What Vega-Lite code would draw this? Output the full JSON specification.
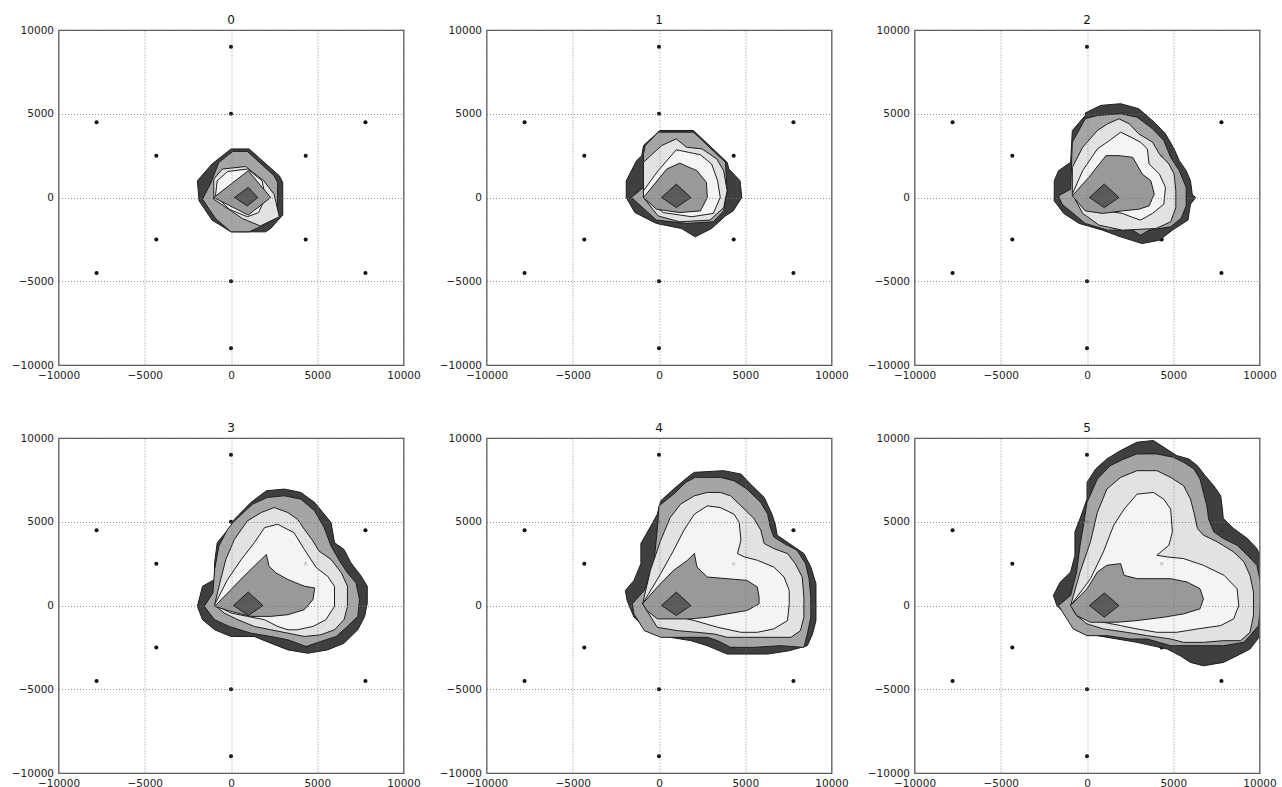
{
"$schema":"https://vega.github.io/schema/vega-lite/v6.json",
"padding":{"left":10.5,"top":13,"right":0,"bottom":0},
"background":"white",
"config":{"view":{"stroke":"#555","strokeWidth":1.2},"font":"DejaVu Sans"},
"data":{"values":[
{"p":0,"l":0,"i":0,"x":0,"y":2900},{"p":0,"l":0,"i":1,"x":1050,"y":2900},{"p":0,"l":0,"i":2,"x":2800,"y":1300},{"p":0,"l":0,"i":3,"x":3000,"y":900},{"p":0,"l":0,"i":4,"x":3000,"y":-1050},{"p":0,"l":0,"i":5,"x":2300,"y":-1850},{"p":0,"l":0,"i":6,"x":2000,"y":-2050},{"p":0,"l":0,"i":7,"x":0,"y":-2050},{"p":0,"l":0,"i":8,"x":-1100,"y":-1350},{"p":0,"l":0,"i":9,"x":-1850,"y":-200},{"p":0,"l":0,"i":10,"x":-1950,"y":1000},{"p":0,"l":0,"i":11,"x":-1100,"y":2000},
{"p":0,"l":1,"i":0,"x":100,"y":2750},{"p":0,"l":1,"i":1,"x":950,"y":2750},{"p":0,"l":1,"i":2,"x":2500,"y":1300},{"p":0,"l":1,"i":3,"x":2700,"y":900},{"p":0,"l":1,"i":4,"x":2700,"y":-800},{"p":0,"l":1,"i":5,"x":2200,"y":-1500},{"p":0,"l":1,"i":6,"x":1050,"y":-2050},{"p":0,"l":1,"i":7,"x":0,"y":-2050},{"p":0,"l":1,"i":8,"x":-900,"y":-1250},{"p":0,"l":1,"i":9,"x":-1650,"y":-100},{"p":0,"l":1,"i":10,"x":-1200,"y":800},{"p":0,"l":1,"i":11,"x":-700,"y":2100},
{"p":0,"l":2,"i":0,"x":-1000,"y":1100},{"p":0,"l":2,"i":1,"x":-500,"y":1700},{"p":0,"l":2,"i":2,"x":850,"y":1850},{"p":0,"l":2,"i":3,"x":1900,"y":1000},{"p":0,"l":2,"i":4,"x":2500,"y":200},{"p":0,"l":2,"i":5,"x":2800,"y":-1150},{"p":0,"l":2,"i":6,"x":1700,"y":-1700},{"p":0,"l":2,"i":7,"x":650,"y":-1250},{"p":0,"l":2,"i":8,"x":-1000,"y":-100},
{"p":0,"l":3,"i":0,"x":-900,"y":100},{"p":0,"l":3,"i":1,"x":-800,"y":1000},{"p":0,"l":3,"i":2,"x":-200,"y":1550},{"p":0,"l":3,"i":3,"x":950,"y":1700},{"p":0,"l":3,"i":4,"x":1800,"y":1000},{"p":0,"l":3,"i":5,"x":2000,"y":0},{"p":0,"l":3,"i":6,"x":1600,"y":-900},{"p":0,"l":3,"i":7,"x":950,"y":-1150},{"p":0,"l":3,"i":8,"x":-100,"y":-700},
{"p":0,"l":4,"i":0,"x":-1000,"y":0},{"p":0,"l":4,"i":1,"x":1000,"y":1600},{"p":0,"l":4,"i":2,"x":2300,"y":0},{"p":0,"l":4,"i":3,"x":1000,"y":-1050},
{"p":0,"l":5,"i":0,"x":200,"y":0},{"p":0,"l":5,"i":1,"x":1000,"y":600},{"p":0,"l":5,"i":2,"x":1550,"y":0},{"p":0,"l":5,"i":3,"x":950,"y":-500},

{"p":1,"l":0,"i":0,"x":50,"y":4000},{"p":1,"l":0,"i":1,"x":2000,"y":4000},{"p":1,"l":0,"i":2,"x":3950,"y":2100},{"p":1,"l":0,"i":3,"x":4050,"y":1700},{"p":1,"l":0,"i":4,"x":4700,"y":1000},{"p":1,"l":0,"i":5,"x":4800,"y":0},{"p":1,"l":0,"i":6,"x":4300,"y":-800},{"p":1,"l":0,"i":7,"x":3850,"y":-1100},{"p":1,"l":0,"i":8,"x":3050,"y":-1850},{"p":1,"l":0,"i":9,"x":2100,"y":-2350},{"p":1,"l":0,"i":10,"x":1300,"y":-1850},{"p":1,"l":0,"i":11,"x":-150,"y":-1550},{"p":1,"l":0,"i":12,"x":-1400,"y":-900},{"p":1,"l":0,"i":13,"x":-1900,"y":0},{"p":1,"l":0,"i":14,"x":-1900,"y":1000},{"p":1,"l":0,"i":15,"x":-1300,"y":2200},{"p":1,"l":0,"i":16,"x":-1000,"y":2500},{"p":1,"l":0,"i":17,"x":-900,"y":3100},
{"p":1,"l":1,"i":0,"x":-50,"y":3900},{"p":1,"l":1,"i":1,"x":2000,"y":3900},{"p":1,"l":1,"i":2,"x":3850,"y":2100},{"p":1,"l":1,"i":3,"x":3950,"y":400},{"p":1,"l":1,"i":4,"x":3750,"y":-800},{"p":1,"l":1,"i":5,"x":3150,"y":-1450},{"p":1,"l":1,"i":6,"x":1600,"y":-1550},{"p":1,"l":1,"i":7,"x":-150,"y":-1350},{"p":1,"l":1,"i":8,"x":-1600,"y":0},{"p":1,"l":1,"i":9,"x":-900,"y":600},{"p":1,"l":1,"i":10,"x":-900,"y":2600},{"p":1,"l":1,"i":11,"x":-800,"y":3100},
{"p":1,"l":2,"i":0,"x":-900,"y":2100},{"p":1,"l":2,"i":1,"x":150,"y":3100},{"p":1,"l":2,"i":2,"x":1000,"y":3500},{"p":1,"l":2,"i":3,"x":1600,"y":3000},{"p":1,"l":2,"i":4,"x":2500,"y":2900},{"p":1,"l":2,"i":5,"x":3350,"y":2300},{"p":1,"l":2,"i":6,"x":3750,"y":1600},{"p":1,"l":2,"i":7,"x":3950,"y":400},{"p":1,"l":2,"i":8,"x":3750,"y":-600},{"p":1,"l":2,"i":9,"x":2950,"y":-1350},{"p":1,"l":2,"i":10,"x":1200,"y":-1450},{"p":1,"l":2,"i":11,"x":-50,"y":-1100},{"p":1,"l":2,"i":12,"x":-900,"y":0},
{"p":1,"l":3,"i":0,"x":-900,"y":400},{"p":1,"l":3,"i":1,"x":-50,"y":1600},{"p":1,"l":3,"i":2,"x":1000,"y":2850},{"p":1,"l":3,"i":3,"x":1700,"y":2700},{"p":1,"l":3,"i":4,"x":2400,"y":2550},{"p":1,"l":3,"i":5,"x":3050,"y":2000},{"p":1,"l":3,"i":6,"x":3400,"y":1000},{"p":1,"l":3,"i":7,"x":3550,"y":0},{"p":1,"l":3,"i":8,"x":3150,"y":-950},{"p":1,"l":3,"i":9,"x":1900,"y":-1150},{"p":1,"l":3,"i":10,"x":250,"y":-900},{"p":1,"l":3,"i":11,"x":-900,"y":0},
{"p":1,"l":4,"i":0,"x":-900,"y":0},{"p":1,"l":4,"i":1,"x":450,"y":1700},{"p":1,"l":4,"i":2,"x":1200,"y":2050},{"p":1,"l":4,"i":3,"x":2200,"y":1600},{"p":1,"l":4,"i":4,"x":2750,"y":900},{"p":1,"l":4,"i":5,"x":2800,"y":0},{"p":1,"l":4,"i":6,"x":2400,"y":-800},{"p":1,"l":4,"i":7,"x":1200,"y":-900},{"p":1,"l":4,"i":8,"x":-150,"y":-700},
{"p":1,"l":5,"i":0,"x":150,"y":0},{"p":1,"l":5,"i":1,"x":1000,"y":800},{"p":1,"l":5,"i":2,"x":1850,"y":0},{"p":1,"l":5,"i":3,"x":1000,"y":-600},

{"p":2,"l":0,"i":0,"x":0,"y":5100},{"p":2,"l":0,"i":1,"x":800,"y":5500},{"p":2,"l":0,"i":2,"x":1950,"y":5600},{"p":2,"l":0,"i":3,"x":3000,"y":5300},{"p":2,"l":0,"i":4,"x":3900,"y":4500},{"p":2,"l":0,"i":5,"x":4550,"y":3800},{"p":2,"l":0,"i":6,"x":5050,"y":2900},{"p":2,"l":0,"i":7,"x":5350,"y":2200},{"p":2,"l":0,"i":8,"x":5750,"y":1600},{"p":2,"l":0,"i":9,"x":6000,"y":1000},{"p":2,"l":0,"i":10,"x":6100,"y":200},{"p":2,"l":0,"i":11,"x":6300,"y":0},{"p":2,"l":0,"i":12,"x":6000,"y":-400},{"p":2,"l":0,"i":13,"x":5850,"y":-1350},{"p":2,"l":0,"i":14,"x":4950,"y":-1950},{"p":2,"l":0,"i":15,"x":4200,"y":-2550},{"p":2,"l":0,"i":16,"x":3200,"y":-2750},{"p":2,"l":0,"i":17,"x":1950,"y":-2350},{"p":2,"l":0,"i":18,"x":900,"y":-1950},{"p":2,"l":0,"i":19,"x":-450,"y":-1550},{"p":2,"l":0,"i":20,"x":-1350,"y":-950},{"p":2,"l":0,"i":21,"x":-1900,"y":-200},{"p":2,"l":0,"i":22,"x":-1900,"y":1000},{"p":2,"l":0,"i":23,"x":-1650,"y":1600},{"p":2,"l":0,"i":24,"x":-950,"y":2100},{"p":2,"l":0,"i":25,"x":-850,"y":4000},{"p":2,"l":0,"i":26,"x":-100,"y":4900},
{"p":2,"l":1,"i":0,"x":600,"y":4900},{"p":2,"l":1,"i":1,"x":1950,"y":5000},{"p":2,"l":1,"i":2,"x":2900,"y":4800},{"p":2,"l":1,"i":3,"x":3800,"y":4100},{"p":2,"l":1,"i":4,"x":4450,"y":3400},{"p":2,"l":1,"i":5,"x":4850,"y":2400},{"p":2,"l":1,"i":6,"x":5350,"y":1600},{"p":2,"l":1,"i":7,"x":5750,"y":600},{"p":2,"l":1,"i":8,"x":5750,"y":-500},{"p":2,"l":1,"i":9,"x":5450,"y":-1250},{"p":2,"l":1,"i":10,"x":4850,"y":-1750},{"p":2,"l":1,"i":11,"x":3600,"y":-1950},{"p":2,"l":1,"i":12,"x":3100,"y":-2250},{"p":2,"l":1,"i":13,"x":2650,"y":-1950},{"p":2,"l":1,"i":14,"x":1200,"y":-1950},{"p":2,"l":1,"i":15,"x":-100,"y":-1550},{"p":2,"l":1,"i":16,"x":-1450,"y":-400},{"p":2,"l":1,"i":17,"x":-1650,"y":100},{"p":2,"l":1,"i":18,"x":-950,"y":500},{"p":2,"l":1,"i":19,"x":-850,"y":3300},{"p":2,"l":1,"i":20,"x":-100,"y":4700},
{"p":2,"l":2,"i":0,"x":-850,"y":200},{"p":2,"l":2,"i":1,"x":-850,"y":1800},{"p":2,"l":2,"i":2,"x":-250,"y":3000},{"p":2,"l":2,"i":3,"x":600,"y":4000},{"p":2,"l":2,"i":4,"x":1200,"y":4400},{"p":2,"l":2,"i":5,"x":1850,"y":4700},{"p":2,"l":2,"i":6,"x":2450,"y":4400},{"p":2,"l":2,"i":7,"x":3000,"y":3800},{"p":2,"l":2,"i":8,"x":3800,"y":3300},{"p":2,"l":2,"i":9,"x":4200,"y":2600},{"p":2,"l":2,"i":10,"x":4750,"y":2000},{"p":2,"l":2,"i":11,"x":5050,"y":1400},{"p":2,"l":2,"i":12,"x":5150,"y":400},{"p":2,"l":2,"i":13,"x":5150,"y":-600},{"p":2,"l":2,"i":14,"x":4850,"y":-1450},{"p":2,"l":2,"i":15,"x":4000,"y":-1850},{"p":2,"l":2,"i":16,"x":2050,"y":-1950},{"p":2,"l":2,"i":17,"x":700,"y":-1650},{"p":2,"l":2,"i":18,"x":-250,"y":-950},
{"p":2,"l":3,"i":0,"x":-850,"y":200},{"p":2,"l":3,"i":1,"x":-250,"y":1600},{"p":2,"l":3,"i":2,"x":600,"y":2900},{"p":2,"l":3,"i":3,"x":1300,"y":3400},{"p":2,"l":3,"i":4,"x":1950,"y":3900},{"p":2,"l":3,"i":5,"x":2550,"y":3600},{"p":2,"l":3,"i":6,"x":3100,"y":3300},{"p":2,"l":3,"i":7,"x":3500,"y":2900},{"p":2,"l":3,"i":8,"x":3600,"y":2000},{"p":2,"l":3,"i":9,"x":4200,"y":1400},{"p":2,"l":3,"i":10,"x":4550,"y":600},{"p":2,"l":3,"i":11,"x":4450,"y":-400},{"p":2,"l":3,"i":12,"x":3800,"y":-950},{"p":2,"l":3,"i":13,"x":3100,"y":-1350},{"p":2,"l":3,"i":14,"x":2550,"y":-1150},{"p":2,"l":3,"i":15,"x":2050,"y":-950},{"p":2,"l":3,"i":16,"x":1100,"y":-800},{"p":2,"l":3,"i":17,"x":-100,"y":-500},
{"p":2,"l":4,"i":0,"x":-850,"y":100},{"p":2,"l":4,"i":1,"x":100,"y":1200},{"p":2,"l":4,"i":2,"x":1100,"y":2500},{"p":2,"l":4,"i":3,"x":1850,"y":2500},{"p":2,"l":4,"i":4,"x":2650,"y":2400},{"p":2,"l":4,"i":5,"x":3200,"y":1400},{"p":2,"l":4,"i":6,"x":3700,"y":1000},{"p":2,"l":4,"i":7,"x":3900,"y":200},{"p":2,"l":4,"i":8,"x":3600,"y":-500},{"p":2,"l":4,"i":9,"x":3000,"y":-700},{"p":2,"l":4,"i":10,"x":2050,"y":-800},{"p":2,"l":4,"i":11,"x":900,"y":-950},{"p":2,"l":4,"i":12,"x":-100,"y":-800},
{"p":2,"l":5,"i":0,"x":150,"y":0},{"p":2,"l":5,"i":1,"x":1000,"y":800},{"p":2,"l":5,"i":2,"x":1850,"y":0},{"p":2,"l":5,"i":3,"x":1000,"y":-600},

{"p":3,"l":0,"i":0,"x":0,"y":4750},{"p":3,"l":0,"i":1,"x":-800,"y":3750},{"p":3,"l":0,"i":2,"x":-950,"y":2550},{"p":3,"l":0,"i":3,"x":-950,"y":1550},{"p":3,"l":0,"i":4,"x":-1650,"y":1150},{"p":3,"l":0,"i":5,"x":-1950,"y":-50},{"p":3,"l":0,"i":6,"x":-1650,"y":-850},{"p":3,"l":0,"i":7,"x":-950,"y":-1450},{"p":3,"l":0,"i":8,"x":0,"y":-1850},{"p":3,"l":0,"i":9,"x":1350,"y":-1850},{"p":3,"l":0,"i":10,"x":2300,"y":-2250},{"p":3,"l":0,"i":11,"x":3300,"y":-2650},{"p":3,"l":0,"i":12,"x":4450,"y":-2850},{"p":3,"l":0,"i":13,"x":5600,"y":-2650},{"p":3,"l":0,"i":14,"x":6550,"y":-2250},{"p":3,"l":0,"i":15,"x":7350,"y":-1450},{"p":3,"l":0,"i":16,"x":7750,"y":-650},{"p":3,"l":0,"i":17,"x":7900,"y":150},{"p":3,"l":0,"i":18,"x":7900,"y":1150},{"p":3,"l":0,"i":19,"x":7550,"y":1750},{"p":3,"l":0,"i":20,"x":6950,"y":2550},{"p":3,"l":0,"i":21,"x":6550,"y":3350},{"p":3,"l":0,"i":22,"x":6000,"y":3750},{"p":3,"l":0,"i":23,"x":5800,"y":4950},{"p":3,"l":0,"i":24,"x":4850,"y":6150},{"p":3,"l":0,"i":25,"x":4050,"y":6750},{"p":3,"l":0,"i":26,"x":3100,"y":6950},{"p":3,"l":0,"i":27,"x":2050,"y":6850},{"p":3,"l":0,"i":28,"x":1150,"y":6150},{"p":3,"l":0,"i":29,"x":200,"y":5150},
{"p":3,"l":1,"i":0,"x":200,"y":5050},{"p":3,"l":1,"i":1,"x":1250,"y":6050},{"p":3,"l":1,"i":2,"x":2100,"y":6450},{"p":3,"l":1,"i":3,"x":3100,"y":6550},{"p":3,"l":1,"i":4,"x":4050,"y":6350},{"p":3,"l":1,"i":5,"x":4850,"y":5650},{"p":3,"l":1,"i":6,"x":5400,"y":4650},{"p":3,"l":1,"i":7,"x":5800,"y":3550},{"p":3,"l":1,"i":8,"x":6300,"y":2650},{"p":3,"l":1,"i":9,"x":6750,"y":1950},{"p":3,"l":1,"i":10,"x":7250,"y":1350},{"p":3,"l":1,"i":11,"x":7450,"y":350},{"p":3,"l":1,"i":12,"x":7350,"y":-650},{"p":3,"l":1,"i":13,"x":6750,"y":-1250},{"p":3,"l":1,"i":14,"x":6100,"y":-1850},{"p":3,"l":1,"i":15,"x":5200,"y":-2150},{"p":3,"l":1,"i":16,"x":4350,"y":-2450},{"p":3,"l":1,"i":17,"x":3850,"y":-2250},{"p":3,"l":1,"i":18,"x":3300,"y":-2050},{"p":3,"l":1,"i":19,"x":2300,"y":-1850},{"p":3,"l":1,"i":20,"x":1150,"y":-1650},{"p":3,"l":1,"i":21,"x":-100,"y":-1250},{"p":3,"l":1,"i":22,"x":-950,"y":-850},{"p":3,"l":1,"i":23,"x":-1550,"y":-50},{"p":3,"l":1,"i":24,"x":-1050,"y":750},{"p":3,"l":1,"i":25,"x":-950,"y":2150},{"p":3,"l":1,"i":26,"x":-700,"y":3550},{"p":3,"l":1,"i":27,"x":-200,"y":4550},
{"p":3,"l":2,"i":0,"x":-950,"y":50},{"p":3,"l":2,"i":1,"x":-600,"y":1550},{"p":3,"l":2,"i":2,"x":-300,"y":2750},{"p":3,"l":2,"i":3,"x":200,"y":3950},{"p":3,"l":2,"i":4,"x":950,"y":5050},{"p":3,"l":2,"i":5,"x":1750,"y":5550},{"p":3,"l":2,"i":6,"x":2500,"y":5850},{"p":3,"l":2,"i":7,"x":3300,"y":5550},{"p":3,"l":2,"i":8,"x":3850,"y":5150},{"p":3,"l":2,"i":9,"x":4250,"y":4550},{"p":3,"l":2,"i":10,"x":4750,"y":3850},{"p":3,"l":2,"i":11,"x":5100,"y":3250},{"p":3,"l":2,"i":12,"x":5800,"y":2750},{"p":3,"l":2,"i":13,"x":6400,"y":1950},{"p":3,"l":2,"i":14,"x":6750,"y":1150},{"p":3,"l":2,"i":15,"x":6750,"y":-50},{"p":3,"l":2,"i":16,"x":6550,"y":-850},{"p":3,"l":2,"i":17,"x":6000,"y":-1450},{"p":3,"l":2,"i":18,"x":5200,"y":-1750},{"p":3,"l":2,"i":19,"x":4250,"y":-1850},{"p":3,"l":2,"i":20,"x":3300,"y":-1650},{"p":3,"l":2,"i":21,"x":2300,"y":-1450},{"p":3,"l":2,"i":22,"x":1350,"y":-1250},{"p":3,"l":2,"i":23,"x":400,"y":-850},{"p":3,"l":2,"i":24,"x":-400,"y":-450},
{"p":3,"l":3,"i":0,"x":-950,"y":50},{"p":3,"l":3,"i":1,"x":-200,"y":1550},{"p":3,"l":3,"i":2,"x":600,"y":2750},{"p":3,"l":3,"i":3,"x":1350,"y":3750},{"p":3,"l":3,"i":4,"x":1950,"y":4650},{"p":3,"l":3,"i":5,"x":2700,"y":4850},{"p":3,"l":3,"i":6,"x":3650,"y":4350},{"p":3,"l":3,"i":7,"x":4250,"y":3350},{"p":3,"l":3,"i":8,"x":4950,"y":2250},{"p":3,"l":3,"i":9,"x":5600,"y":1750},{"p":3,"l":3,"i":10,"x":6000,"y":1150},{"p":3,"l":3,"i":11,"x":6000,"y":-50},{"p":3,"l":3,"i":12,"x":5500,"y":-850},{"p":3,"l":3,"i":13,"x":4750,"y":-1250},{"p":3,"l":3,"i":14,"x":3850,"y":-1450},{"p":3,"l":3,"i":15,"x":3300,"y":-1450},{"p":3,"l":3,"i":16,"x":2700,"y":-1250},{"p":3,"l":3,"i":17,"x":1950,"y":-850},{"p":3,"l":3,"i":18,"x":950,"y":-650},{"p":3,"l":3,"i":19,"x":0,"y":-450},
{"p":3,"l":4,"i":0,"x":-950,"y":-50},{"p":3,"l":4,"i":1,"x":0,"y":950},{"p":3,"l":4,"i":2,"x":750,"y":1750},{"p":3,"l":4,"i":3,"x":1750,"y":2750},{"p":3,"l":4,"i":4,"x":2050,"y":3050},{"p":3,"l":4,"i":5,"x":2200,"y":2350},{"p":3,"l":4,"i":6,"x":2600,"y":1950},{"p":3,"l":4,"i":7,"x":3300,"y":1550},{"p":3,"l":4,"i":8,"x":4250,"y":1150},{"p":3,"l":4,"i":9,"x":4850,"y":1050},{"p":3,"l":4,"i":10,"x":4750,"y":350},{"p":3,"l":4,"i":11,"x":4250,"y":-250},{"p":3,"l":4,"i":12,"x":3300,"y":-550},{"p":3,"l":4,"i":13,"x":2300,"y":-650},{"p":3,"l":4,"i":14,"x":1150,"y":-650},{"p":3,"l":4,"i":15,"x":0,"y":-350},
{"p":3,"l":5,"i":0,"x":150,"y":0},{"p":3,"l":5,"i":1,"x":1000,"y":800},{"p":3,"l":5,"i":2,"x":1850,"y":0},{"p":3,"l":5,"i":3,"x":1000,"y":-600},

{"p":4,"l":0,"i":0,"x":100,"y":6250},{"p":4,"l":0,"i":1,"x":850,"y":6950},{"p":4,"l":0,"i":2,"x":1650,"y":7650},{"p":4,"l":0,"i":3,"x":2050,"y":7950},{"p":4,"l":0,"i":4,"x":3750,"y":8050},{"p":4,"l":0,"i":5,"x":4750,"y":7850},{"p":4,"l":0,"i":6,"x":5300,"y":7250},{"p":4,"l":0,"i":7,"x":6100,"y":6450},{"p":4,"l":0,"i":8,"x":6550,"y":5450},{"p":4,"l":0,"i":9,"x":6750,"y":4800},{"p":4,"l":0,"i":10,"x":6850,"y":4200},{"p":4,"l":0,"i":11,"x":7550,"y":3700},{"p":4,"l":0,"i":12,"x":8400,"y":3100},{"p":4,"l":0,"i":13,"x":8800,"y":2300},{"p":4,"l":0,"i":14,"x":9100,"y":1300},{"p":4,"l":0,"i":15,"x":9100,"y":300},{"p":4,"l":0,"i":16,"x":9100,"y":-900},{"p":4,"l":0,"i":17,"x":8900,"y":-1700},{"p":4,"l":0,"i":18,"x":8600,"y":-2400},{"p":4,"l":0,"i":19,"x":7550,"y":-2700},{"p":4,"l":0,"i":20,"x":6300,"y":-2900},{"p":4,"l":0,"i":21,"x":4750,"y":-2900},{"p":4,"l":0,"i":22,"x":3950,"y":-2900},{"p":4,"l":0,"i":23,"x":2800,"y":-2400},{"p":4,"l":0,"i":24,"x":1850,"y":-2100},{"p":4,"l":0,"i":25,"x":650,"y":-1900},{"p":4,"l":0,"i":26,"x":-100,"y":-1700},{"p":4,"l":0,"i":27,"x":-850,"y":-1300},{"p":4,"l":0,"i":28,"x":-1450,"y":-700},{"p":4,"l":0,"i":29,"x":-1850,"y":300},{"p":4,"l":0,"i":30,"x":-1950,"y":900},{"p":4,"l":0,"i":31,"x":-1450,"y":1500},{"p":4,"l":0,"i":32,"x":-1050,"y":2500},{"p":4,"l":0,"i":33,"x":-1050,"y":3700},{"p":4,"l":0,"i":34,"x":-500,"y":4700},{"p":4,"l":0,"i":35,"x":-100,"y":5450},
{"p":4,"l":1,"i":0,"x":0,"y":5950},{"p":4,"l":1,"i":1,"x":850,"y":6650},{"p":4,"l":1,"i":2,"x":1550,"y":7350},{"p":4,"l":1,"i":3,"x":2100,"y":7650},{"p":4,"l":1,"i":4,"x":3550,"y":7650},{"p":4,"l":1,"i":5,"x":4350,"y":7450},{"p":4,"l":1,"i":6,"x":5100,"y":6950},{"p":4,"l":1,"i":7,"x":5900,"y":6150},{"p":4,"l":1,"i":8,"x":6300,"y":5450},{"p":4,"l":1,"i":9,"x":6450,"y":4700},{"p":4,"l":1,"i":10,"x":6650,"y":4100},{"p":4,"l":1,"i":11,"x":7250,"y":3700},{"p":4,"l":1,"i":12,"x":8000,"y":3300},{"p":4,"l":1,"i":13,"x":8500,"y":2500},{"p":4,"l":1,"i":14,"x":8700,"y":1600},{"p":4,"l":1,"i":15,"x":8800,"y":500},{"p":4,"l":1,"i":16,"x":8800,"y":-700},{"p":4,"l":1,"i":17,"x":8600,"y":-1700},{"p":4,"l":1,"i":18,"x":8400,"y":-2500},{"p":4,"l":1,"i":19,"x":7050,"y":-2400},{"p":4,"l":1,"i":20,"x":5500,"y":-2500},{"p":4,"l":1,"i":21,"x":4150,"y":-2500},{"p":4,"l":1,"i":22,"x":3400,"y":-2100},{"p":4,"l":1,"i":23,"x":2800,"y":-1900},{"p":4,"l":1,"i":24,"x":1650,"y":-1900},{"p":4,"l":1,"i":25,"x":100,"y":-1900},{"p":4,"l":1,"i":26,"x":-850,"y":-1500},{"p":4,"l":1,"i":27,"x":-1450,"y":-500},{"p":4,"l":1,"i":28,"x":-1550,"y":100},{"p":4,"l":1,"i":29,"x":-850,"y":900},{"p":4,"l":1,"i":30,"x":-300,"y":2500},{"p":4,"l":1,"i":31,"x":-100,"y":4500},
{"p":4,"l":2,"i":0,"x":-950,"y":100},{"p":4,"l":2,"i":1,"x":-500,"y":2100},{"p":4,"l":2,"i":2,"x":100,"y":3900},{"p":4,"l":2,"i":3,"x":650,"y":5250},{"p":4,"l":2,"i":4,"x":1250,"y":6050},{"p":4,"l":2,"i":5,"x":2050,"y":6550},{"p":4,"l":2,"i":6,"x":2800,"y":6750},{"p":4,"l":2,"i":7,"x":3550,"y":6750},{"p":4,"l":2,"i":8,"x":4150,"y":6550},{"p":4,"l":2,"i":9,"x":4750,"y":5950},{"p":4,"l":2,"i":10,"x":5500,"y":5200},{"p":4,"l":2,"i":11,"x":5900,"y":4500},{"p":4,"l":2,"i":12,"x":6100,"y":3700},{"p":4,"l":2,"i":13,"x":6650,"y":3400},{"p":4,"l":2,"i":14,"x":7450,"y":3100},{"p":4,"l":2,"i":15,"x":7900,"y":2500},{"p":4,"l":2,"i":16,"x":8300,"y":1700},{"p":4,"l":2,"i":17,"x":8400,"y":500},{"p":4,"l":2,"i":18,"x":8400,"y":-700},{"p":4,"l":2,"i":19,"x":8200,"y":-1500},{"p":4,"l":2,"i":20,"x":7650,"y":-1900},{"p":4,"l":2,"i":21,"x":6450,"y":-1900},{"p":4,"l":2,"i":22,"x":5100,"y":-1900},{"p":4,"l":2,"i":23,"x":3950,"y":-1900},{"p":4,"l":2,"i":24,"x":3200,"y":-1700},{"p":4,"l":2,"i":25,"x":2200,"y":-1600},{"p":4,"l":2,"i":26,"x":1050,"y":-1500},{"p":4,"l":2,"i":27,"x":-100,"y":-1300},
{"p":4,"l":3,"i":0,"x":-950,"y":100},{"p":4,"l":3,"i":1,"x":100,"y":1900},{"p":4,"l":3,"i":2,"x":850,"y":3300},{"p":4,"l":3,"i":3,"x":1450,"y":4500},{"p":4,"l":3,"i":4,"x":2050,"y":5450},{"p":4,"l":3,"i":5,"x":2800,"y":5950},{"p":4,"l":3,"i":6,"x":3550,"y":5850},{"p":4,"l":3,"i":7,"x":4350,"y":5450},{"p":4,"l":3,"i":8,"x":4650,"y":4950},{"p":4,"l":3,"i":9,"x":4750,"y":3900},{"p":4,"l":3,"i":10,"x":4550,"y":3100},{"p":4,"l":3,"i":11,"x":4950,"y":2900},{"p":4,"l":3,"i":12,"x":5700,"y":2700},{"p":4,"l":3,"i":13,"x":6650,"y":2300},{"p":4,"l":3,"i":14,"x":7250,"y":1700},{"p":4,"l":3,"i":15,"x":7550,"y":900},{"p":4,"l":3,"i":16,"x":7550,"y":100},{"p":4,"l":3,"i":17,"x":7450,"y":-900},{"p":4,"l":3,"i":18,"x":6650,"y":-1400},{"p":4,"l":3,"i":19,"x":5700,"y":-1600},{"p":4,"l":3,"i":20,"x":4750,"y":-1600},{"p":4,"l":3,"i":21,"x":3400,"y":-1300},{"p":4,"l":3,"i":22,"x":2050,"y":-900},{"p":4,"l":3,"i":23,"x":850,"y":-600},{"p":4,"l":3,"i":24,"x":-100,"y":-300},
{"p":4,"l":4,"i":0,"x":-950,"y":100},{"p":4,"l":4,"i":1,"x":-100,"y":1100},{"p":4,"l":4,"i":2,"x":850,"y":2100},{"p":4,"l":4,"i":3,"x":1650,"y":2700},{"p":4,"l":4,"i":4,"x":2050,"y":3100},{"p":4,"l":4,"i":5,"x":2200,"y":2300},{"p":4,"l":4,"i":6,"x":2800,"y":1700},{"p":4,"l":4,"i":7,"x":3950,"y":1600},{"p":4,"l":4,"i":8,"x":5100,"y":1500},{"p":4,"l":4,"i":9,"x":5700,"y":1100},{"p":4,"l":4,"i":10,"x":5800,"y":500},{"p":4,"l":4,"i":11,"x":5800,"y":100},{"p":4,"l":4,"i":12,"x":5100,"y":-300},{"p":4,"l":4,"i":13,"x":3950,"y":-500},{"p":4,"l":4,"i":14,"x":2800,"y":-700},{"p":4,"l":4,"i":15,"x":1850,"y":-800},{"p":4,"l":4,"i":16,"x":-100,"y":-800},{"p":4,"l":4,"i":17,"x":-700,"y":-300},
{"p":4,"l":5,"i":0,"x":150,"y":0},{"p":4,"l":5,"i":1,"x":1000,"y":800},{"p":4,"l":5,"i":2,"x":1850,"y":0},{"p":4,"l":5,"i":3,"x":1000,"y":-600},

{"p":5,"l":0,"i":0,"x":0,"y":7350},{"p":5,"l":0,"i":1,"x":500,"y":8150},{"p":5,"l":0,"i":2,"x":1150,"y":8750},{"p":5,"l":0,"i":3,"x":1950,"y":9250},{"p":5,"l":0,"i":4,"x":2900,"y":9750},{"p":5,"l":0,"i":5,"x":3850,"y":9850},{"p":5,"l":0,"i":6,"x":4450,"y":9450},{"p":5,"l":0,"i":7,"x":5200,"y":8950},{"p":5,"l":0,"i":8,"x":5900,"y":8750},{"p":5,"l":0,"i":9,"x":6400,"y":8350},{"p":5,"l":0,"i":10,"x":6850,"y":7750},{"p":5,"l":0,"i":11,"x":7350,"y":7150},{"p":5,"l":0,"i":12,"x":7750,"y":6550},{"p":5,"l":0,"i":13,"x":7850,"y":5750},{"p":5,"l":0,"i":14,"x":7900,"y":5200},{"p":5,"l":0,"i":15,"x":8500,"y":4600},{"p":5,"l":0,"i":16,"x":9300,"y":4000},{"p":5,"l":0,"i":17,"x":9850,"y":3400},{"p":5,"l":0,"i":18,"x":10250,"y":2400},{"p":5,"l":0,"i":19,"x":10250,"y":800},{"p":5,"l":0,"i":20,"x":10250,"y":-800},{"p":5,"l":0,"i":21,"x":10050,"y":-1800},{"p":5,"l":0,"i":22,"x":9450,"y":-2600},{"p":5,"l":0,"i":23,"x":8700,"y":-3000},{"p":5,"l":0,"i":24,"x":7900,"y":-3400},{"p":5,"l":0,"i":25,"x":6750,"y":-3600},{"p":5,"l":0,"i":26,"x":6000,"y":-3400},{"p":5,"l":0,"i":27,"x":5400,"y":-3000},{"p":5,"l":0,"i":28,"x":4650,"y":-2600},{"p":5,"l":0,"i":29,"x":2900,"y":-2200},{"p":5,"l":0,"i":30,"x":1750,"y":-2000},{"p":5,"l":0,"i":31,"x":600,"y":-1800},{"p":5,"l":0,"i":32,"x":-600,"y":-1200},{"p":5,"l":0,"i":33,"x":-1150,"y":-600},{"p":5,"l":0,"i":34,"x":-1750,"y":0},{"p":5,"l":0,"i":35,"x":-1950,"y":600},{"p":5,"l":0,"i":36,"x":-1550,"y":1400},{"p":5,"l":0,"i":37,"x":-950,"y":2000},{"p":5,"l":0,"i":38,"x":-700,"y":3000},{"p":5,"l":0,"i":39,"x":-700,"y":4400},{"p":5,"l":0,"i":40,"x":-400,"y":5200},{"p":5,"l":0,"i":41,"x":0,"y":6350},
{"p":5,"l":1,"i":0,"x":0,"y":6150},{"p":5,"l":1,"i":1,"x":600,"y":7550},{"p":5,"l":1,"i":2,"x":1350,"y":8350},{"p":5,"l":1,"i":3,"x":2150,"y":8750},{"p":5,"l":1,"i":4,"x":2900,"y":9050},{"p":5,"l":1,"i":5,"x":4050,"y":9050},{"p":5,"l":1,"i":6,"x":5000,"y":8850},{"p":5,"l":1,"i":7,"x":5600,"y":8550},{"p":5,"l":1,"i":8,"x":6200,"y":8150},{"p":5,"l":1,"i":9,"x":6550,"y":7550},{"p":5,"l":1,"i":10,"x":6750,"y":6750},{"p":5,"l":1,"i":11,"x":6950,"y":5950},{"p":5,"l":1,"i":12,"x":7050,"y":5150},{"p":5,"l":1,"i":13,"x":7350,"y":4400},{"p":5,"l":1,"i":14,"x":7900,"y":4000},{"p":5,"l":1,"i":15,"x":8700,"y":3600},{"p":5,"l":1,"i":16,"x":9300,"y":3000},{"p":5,"l":1,"i":17,"x":9850,"y":2400},{"p":5,"l":1,"i":18,"x":10050,"y":1400},{"p":5,"l":1,"i":19,"x":10050,"y":0},{"p":5,"l":1,"i":20,"x":9950,"y":-1200},{"p":5,"l":1,"i":21,"x":9450,"y":-1800},{"p":5,"l":1,"i":22,"x":9100,"y":-2200},{"p":5,"l":1,"i":23,"x":7900,"y":-2400},{"p":5,"l":1,"i":24,"x":6200,"y":-2400},{"p":5,"l":1,"i":25,"x":4850,"y":-2400},{"p":5,"l":1,"i":26,"x":3500,"y":-2000},{"p":5,"l":1,"i":27,"x":2500,"y":-2000},{"p":5,"l":1,"i":28,"x":1150,"y":-1800},{"p":5,"l":1,"i":29,"x":0,"y":-1800},{"p":5,"l":1,"i":30,"x":-800,"y":-1400},{"p":5,"l":1,"i":31,"x":-1350,"y":-500},{"p":5,"l":1,"i":32,"x":-1650,"y":0},{"p":5,"l":1,"i":33,"x":-950,"y":600},{"p":5,"l":1,"i":34,"x":-600,"y":2000},{"p":5,"l":1,"i":35,"x":-400,"y":3600},{"p":5,"l":1,"i":36,"x":-200,"y":4800},
{"p":5,"l":2,"i":0,"x":-950,"y":0},{"p":5,"l":2,"i":1,"x":-400,"y":2000},{"p":5,"l":2,"i":2,"x":200,"y":3800},{"p":5,"l":2,"i":3,"x":600,"y":5550},{"p":5,"l":2,"i":4,"x":1150,"y":6950},{"p":5,"l":2,"i":5,"x":1950,"y":7650},{"p":5,"l":2,"i":6,"x":2900,"y":8050},{"p":5,"l":2,"i":7,"x":4050,"y":8050},{"p":5,"l":2,"i":8,"x":4850,"y":7650},{"p":5,"l":2,"i":9,"x":5600,"y":7150},{"p":5,"l":2,"i":10,"x":6000,"y":6350},{"p":5,"l":2,"i":11,"x":6200,"y":5550},{"p":5,"l":2,"i":12,"x":6400,"y":4600},{"p":5,"l":2,"i":13,"x":6750,"y":4200},{"p":5,"l":2,"i":14,"x":7550,"y":3800},{"p":5,"l":2,"i":15,"x":8500,"y":3200},{"p":5,"l":2,"i":16,"x":9100,"y":2600},{"p":5,"l":2,"i":17,"x":9450,"y":1800},{"p":5,"l":2,"i":18,"x":9650,"y":800},{"p":5,"l":2,"i":19,"x":9650,"y":-600},{"p":5,"l":2,"i":20,"x":9450,"y":-1600},{"p":5,"l":2,"i":21,"x":8900,"y":-2100},{"p":5,"l":2,"i":22,"x":7900,"y":-2100},{"p":5,"l":2,"i":23,"x":6750,"y":-2200},{"p":5,"l":2,"i":24,"x":5600,"y":-2200},{"p":5,"l":2,"i":25,"x":4850,"y":-2000},{"p":5,"l":2,"i":26,"x":3500,"y":-1800},{"p":5,"l":2,"i":27,"x":2300,"y":-1600},{"p":5,"l":2,"i":28,"x":950,"y":-1400},{"p":5,"l":2,"i":29,"x":0,"y":-1100},{"p":5,"l":2,"i":30,"x":-600,"y":-600},
{"p":5,"l":3,"i":0,"x":-950,"y":0},{"p":5,"l":3,"i":1,"x":200,"y":1600},{"p":5,"l":3,"i":2,"x":950,"y":3200},{"p":5,"l":3,"i":3,"x":1550,"y":4800},{"p":5,"l":3,"i":4,"x":2150,"y":5750},{"p":5,"l":3,"i":5,"x":2900,"y":6650},{"p":5,"l":3,"i":6,"x":3850,"y":6750},{"p":5,"l":3,"i":7,"x":4450,"y":6350},{"p":5,"l":3,"i":8,"x":4850,"y":5750},{"p":5,"l":3,"i":9,"x":4950,"y":4400},{"p":5,"l":3,"i":10,"x":4750,"y":3600},{"p":5,"l":3,"i":11,"x":4050,"y":3000},{"p":5,"l":3,"i":12,"x":4650,"y":2900},{"p":5,"l":3,"i":13,"x":5600,"y":2800},{"p":5,"l":3,"i":14,"x":6750,"y":2400},{"p":5,"l":3,"i":15,"x":7950,"y":1800},{"p":5,"l":3,"i":16,"x":8700,"y":1000},{"p":5,"l":3,"i":17,"x":8800,"y":0},{"p":5,"l":3,"i":18,"x":8500,"y":-800},{"p":5,"l":3,"i":19,"x":7750,"y":-1200},{"p":5,"l":3,"i":20,"x":6400,"y":-1400},{"p":5,"l":3,"i":21,"x":5200,"y":-1600},{"p":5,"l":3,"i":22,"x":4050,"y":-1600},{"p":5,"l":3,"i":23,"x":2900,"y":-1400},{"p":5,"l":3,"i":24,"x":1950,"y":-1200},{"p":5,"l":3,"i":25,"x":950,"y":-1000},{"p":5,"l":3,"i":26,"x":0,"y":-800},
{"p":5,"l":4,"i":0,"x":-950,"y":0},{"p":5,"l":4,"i":1,"x":0,"y":1000},{"p":5,"l":4,"i":2,"x":600,"y":2000},{"p":5,"l":4,"i":3,"x":1150,"y":2400},{"p":5,"l":4,"i":4,"x":1950,"y":2500},{"p":5,"l":4,"i":5,"x":2150,"y":1800},{"p":5,"l":4,"i":6,"x":2900,"y":1600},{"p":5,"l":4,"i":7,"x":4850,"y":1600},{"p":5,"l":4,"i":8,"x":5800,"y":1400},{"p":5,"l":4,"i":9,"x":6550,"y":1000},{"p":5,"l":4,"i":10,"x":6750,"y":400},{"p":5,"l":4,"i":11,"x":6550,"y":-200},{"p":5,"l":4,"i":12,"x":5600,"y":-500},{"p":5,"l":4,"i":13,"x":4450,"y":-700},{"p":5,"l":4,"i":14,"x":2900,"y":-900},{"p":5,"l":4,"i":15,"x":1750,"y":-1000},{"p":5,"l":4,"i":16,"x":200,"y":-1000},{"p":5,"l":4,"i":17,"x":-600,"y":-600},
{"p":5,"l":5,"i":0,"x":150,"y":0},{"p":5,"l":5,"i":1,"x":1000,"y":750},{"p":5,"l":5,"i":2,"x":1850,"y":0},{"p":5,"l":5,"i":3,"x":1000,"y":-700},

{"p":0,"l":9,"x":0,"y":9000},{"p":0,"l":9,"x":0,"y":5000},{"p":0,"l":9,"x":0,"y":-5000},{"p":0,"l":9,"x":0,"y":-9000},{"p":0,"l":9,"x":7794,"y":4500},{"p":0,"l":9,"x":7794,"y":-4500},{"p":0,"l":9,"x":-7794,"y":4500},{"p":0,"l":9,"x":-7794,"y":-4500},{"p":0,"l":9,"x":4330,"y":2500},{"p":0,"l":9,"x":4330,"y":-2500},{"p":0,"l":9,"x":-4330,"y":2500},{"p":0,"l":9,"x":-4330,"y":-2500},
{"p":1,"l":9,"x":0,"y":9000},{"p":1,"l":9,"x":0,"y":5000},{"p":1,"l":9,"x":0,"y":-5000},{"p":1,"l":9,"x":0,"y":-9000},{"p":1,"l":9,"x":7794,"y":4500},{"p":1,"l":9,"x":7794,"y":-4500},{"p":1,"l":9,"x":-7794,"y":4500},{"p":1,"l":9,"x":-7794,"y":-4500},{"p":1,"l":9,"x":4330,"y":2500},{"p":1,"l":9,"x":4330,"y":-2500},{"p":1,"l":9,"x":-4330,"y":2500},{"p":1,"l":9,"x":-4330,"y":-2500},
{"p":2,"l":9,"x":0,"y":9000},{"p":2,"l":9,"x":0,"y":5000},{"p":2,"l":9,"x":0,"y":-5000},{"p":2,"l":9,"x":0,"y":-9000},{"p":2,"l":9,"x":7794,"y":4500},{"p":2,"l":9,"x":7794,"y":-4500},{"p":2,"l":9,"x":-7794,"y":4500},{"p":2,"l":9,"x":-7794,"y":-4500},{"p":2,"l":9,"x":4330,"y":2500},{"p":2,"l":9,"x":4330,"y":-2500},{"p":2,"l":9,"x":-4330,"y":2500},{"p":2,"l":9,"x":-4330,"y":-2500},
{"p":3,"l":9,"x":0,"y":9000},{"p":3,"l":9,"x":0,"y":5000},{"p":3,"l":9,"x":0,"y":-5000},{"p":3,"l":9,"x":0,"y":-9000},{"p":3,"l":9,"x":7794,"y":4500},{"p":3,"l":9,"x":7794,"y":-4500},{"p":3,"l":9,"x":-7794,"y":4500},{"p":3,"l":9,"x":-7794,"y":-4500},{"p":3,"l":9,"x":4330,"y":2500},{"p":3,"l":9,"x":4330,"y":-2500},{"p":3,"l":9,"x":-4330,"y":2500},{"p":3,"l":9,"x":-4330,"y":-2500},
{"p":4,"l":9,"x":0,"y":9000},{"p":4,"l":9,"x":0,"y":5000},{"p":4,"l":9,"x":0,"y":-5000},{"p":4,"l":9,"x":0,"y":-9000},{"p":4,"l":9,"x":7794,"y":4500},{"p":4,"l":9,"x":7794,"y":-4500},{"p":4,"l":9,"x":-7794,"y":4500},{"p":4,"l":9,"x":-7794,"y":-4500},{"p":4,"l":9,"x":4330,"y":2500},{"p":4,"l":9,"x":4330,"y":-2500},{"p":4,"l":9,"x":-4330,"y":2500},{"p":4,"l":9,"x":-4330,"y":-2500},
{"p":5,"l":9,"x":0,"y":9000},{"p":5,"l":9,"x":0,"y":5000},{"p":5,"l":9,"x":0,"y":-5000},{"p":5,"l":9,"x":0,"y":-9000},{"p":5,"l":9,"x":7794,"y":4500},{"p":5,"l":9,"x":7794,"y":-4500},{"p":5,"l":9,"x":-7794,"y":4500},{"p":5,"l":9,"x":-7794,"y":-4500},{"p":5,"l":9,"x":4330,"y":2500},{"p":5,"l":9,"x":4330,"y":-2500},{"p":5,"l":9,"x":-4330,"y":2500},{"p":5,"l":9,"x":-4330,"y":-2500}
]},
"facet":{"field":"p","type":"ordinal","header":{"title":null,"labelFontSize":12,"labelFont":"DejaVu Sans","labelColor":"#111","labelPadding":-2}},
"columns":3,
"bounds":"flush",
"spacing":{"row":73,"column":83},
"resolve":{"axis":{"x":"independent","y":"independent"}},
"spec":{
"width":345,"height":335,
"encoding":{
"x":{"field":"x","type":"quantitative","scale":{"domain":[-10000,10000],"nice":false,"zero":false},"axis":{"title":null,"values":[-10000,-5000,0,5000,10000],"format":"d","grid":true,"gridColor":"#777","gridOpacity":0.8,"gridDash":[1,2],"domain":false,"ticks":false,"labelFlush":false,"labelFontSize":10.5,"labelFont":"DejaVu Sans","labelColor":"#222","labelPadding":5,"zindex":1}},
"y":{"field":"y","type":"quantitative","scale":{"domain":[-10000,10000],"nice":false,"zero":false},"axis":{"title":null,"values":[-10000,-5000,0,5000,10000],"format":"d","grid":true,"gridColor":"#777","gridOpacity":0.8,"gridDash":[1,2],"domain":false,"ticks":false,"labelFlush":false,"labelFontSize":10.5,"labelFont":"DejaVu Sans","labelColor":"#222","labelPadding":5,"zindex":1}}
},
"layer":[
{"transform":[{"filter":"datum.l==9"}],"mark":{"type":"circle","size":16,"color":"#111","opacity":1}},
{"transform":[{"filter":"datum.l==0"}],"mark":{"type":"line","interpolate":"linear-closed","fill":"#3f3f3f","stroke":"#1e1e1e","strokeWidth":1,"clip":true},"encoding":{"order":{"field":"i","type":"quantitative"}}},
{"transform":[{"filter":"datum.l==1"}],"mark":{"type":"line","interpolate":"linear-closed","fill":"#a5a5a5","stroke":"#1e1e1e","strokeWidth":1,"clip":true},"encoding":{"order":{"field":"i","type":"quantitative"}}},
{"transform":[{"filter":"datum.l==2"}],"mark":{"type":"line","interpolate":"linear-closed","fill":"#e2e2e2","stroke":"#1e1e1e","strokeWidth":1,"clip":true},"encoding":{"order":{"field":"i","type":"quantitative"}}},
{"transform":[{"filter":"datum.l==3"}],"mark":{"type":"line","interpolate":"linear-closed","fill":"#f4f4f4","stroke":"#1e1e1e","strokeWidth":1,"clip":true},"encoding":{"order":{"field":"i","type":"quantitative"}}},
{"transform":[{"filter":"datum.l==4"}],"mark":{"type":"line","interpolate":"linear-closed","fill":"#999999","stroke":"#1e1e1e","strokeWidth":1,"clip":true},"encoding":{"order":{"field":"i","type":"quantitative"}}},
{"transform":[{"filter":"datum.l==5"}],"mark":{"type":"line","interpolate":"linear-closed","fill":"#5a5a5a","stroke":"#1e1e1e","strokeWidth":1,"clip":true},"encoding":{"order":{"field":"i","type":"quantitative"}}},
{"transform":[{"filter":"datum.l==9"}],"mark":{"type":"circle","size":16,"color":"#111","opacity":0.15}}
]
}
}
